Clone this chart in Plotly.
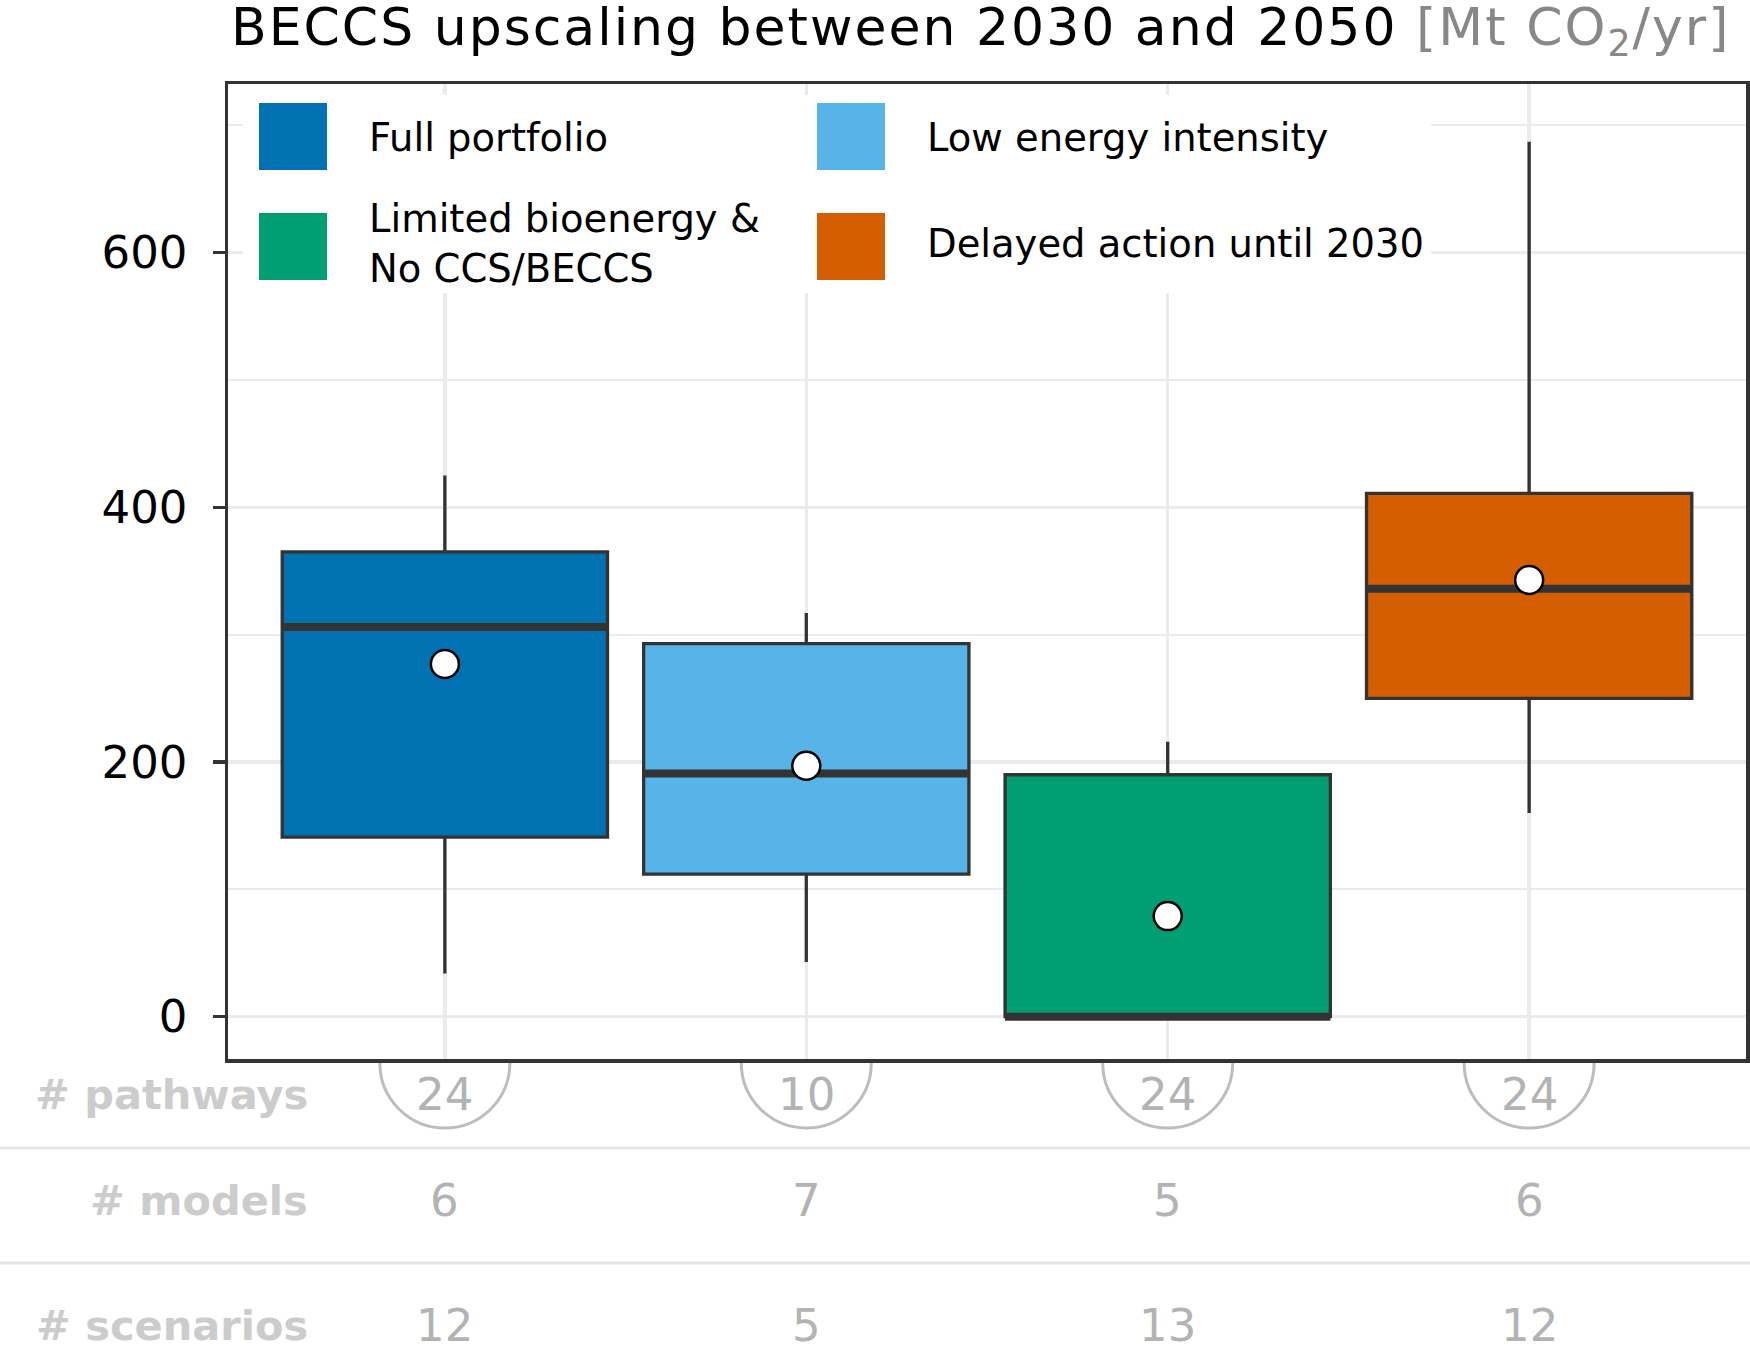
import plotly.graph_objects as go

# ---------------- data ----------------
categories = ["Full portfolio", "Low energy intensity",
              "Limited bioenergy &<br>No CCS/BECCS", "Delayed action until 2030"]
colors = ["#0072B2", "#56B4E9", "#009E73", "#D55E00"]
lower_whisker = [34, 43, 0, 160]
q1 = [141, 112, 0, 250]
median = [306, 191, 0, 336]
q3 = [365, 293, 190, 411]
upper_whisker = [425, 317, 216, 687]
mean = [277, 197, 79, 343]
n_pathways = [24, 10, 24, 24]
n_models = [6, 7, 5, 6]
n_scenarios = [12, 5, 13, 12]
row_labels = ["# pathways", "# models", "# scenarios"]
y_tick0 = 0
y_major_step = 200
y_minor_step = 100

# ---------------- layout geometry (pixels) ----------------
W, H = 1750, 1355
L, R, T, B = 228, 4, 84, 296
PW, PH = W - L - R, H - T - B
FONT = "DejaVu Sans"
BOX_W = 0.9


def px_x(p):
    return (p - L) / PW


def px_y(p):
    return (H - B - p) / PH


positions = list(range(len(categories)))

fig = go.Figure()

for i, cat in enumerate(categories):
    fig.add_trace(go.Box(
        x=[positions[i]], q1=[q1[i]], median=[median[i]], q3=[q3[i]],
        lowerfence=[lower_whisker[i]], upperfence=[upper_whisker[i]],
        fillcolor=colors[i], line=dict(color="#333333", width=3.3),
        whiskerwidth=0, width=BOX_W, boxpoints=False, showlegend=False,
        name=cat.replace("<br>", " "), hoverinfo="skip"))
    # thick median bar
    fig.add_trace(go.Scatter(
        x=[positions[i] - BOX_W / 2, positions[i] + BOX_W / 2],
        y=[median[i], median[i]], mode="lines",
        line=dict(color="#333333", width=8), showlegend=False,
        hoverinfo="skip"))

fig.add_trace(go.Scatter(
    x=positions, y=mean, mode="markers",
    marker=dict(size=28, color="white", line=dict(color="black", width=2.5)),
    showlegend=False, hoverinfo="skip"))

shapes = []
annotations = []

# ---- custom legend ----
shapes.append(dict(type="rect", xref="paper", yref="paper",
                   x0=px_x(243), x1=px_x(1431), y0=px_y(293), y1=px_y(95),
                   fillcolor="white", line=dict(width=0), layer="above"))
leg_col = [0, 1, 0, 1]
leg_row = [0, 0, 1, 1]
sw_x = [259, 817]
txt_x = [367, 925]
sw_y = [103, 213]
txt_dy = [0, -3]
SW = 68
for i, cat in enumerate(categories):
    c, r = leg_col[i], leg_row[i]
    shapes.append(dict(type="rect", xref="paper", yref="paper",
                       x0=px_x(sw_x[c]), x1=px_x(sw_x[c] + SW),
                       y0=px_y(sw_y[r] + SW - 1), y1=px_y(sw_y[r]),
                       fillcolor=colors[i], line=dict(width=0), layer="above"))
    annotations.append(dict(xref="paper", yref="paper", x=px_x(txt_x[c]),
                            y=px_y(sw_y[r] + SW / 2 + txt_dy[r]),
                            xanchor="left",
                            yanchor="middle", text=cat, showarrow=False,
                            align="left",
                            font=dict(family=FONT, size=38.5, color="black")))

# ---- title ----
annotations.append(dict(
    xref="paper", yref="paper", x=px_x(229), y=px_y(31.5),
    xanchor="left", yanchor="middle", showarrow=False,
    text="<span style='letter-spacing:2px'>BECCS upscaling between 2030 and 2050 "
         "<span style='color:#888888'>[Mt CO<sub>2</sub>/yr]</span></span>",
    font=dict(family=FONT, size=52, color="black")))

# ---- table below the plot ----
r_c = 65
k = 0.5523 * r_c
half_circle = (f"M {-r_c},0 C {-r_c},{-k} {-k},{-r_c} 0,{-r_c} "
               f"C {k},{-r_c} {r_c},{-k} {r_c},0")
for i in positions:
    shapes.append(dict(type="path", xref="x", yref="paper",
                       xsizemode="pixel", ysizemode="pixel",
                       xanchor=i, yanchor=px_y(1063), path=half_circle,
                       line=dict(color="#bdbdbd", width=3), layer="above"))

row_y = [1094, 1200, 1325]
row_values = [n_pathways, n_models, n_scenarios]
for rlab, ry, vals in zip(row_labels, row_y, row_values):
    annotations.append(dict(xref="paper", yref="paper", x=px_x(310),
                            y=px_y(ry), xanchor="right", yanchor="middle",
                            text=f"<b>{rlab}</b>", showarrow=False,
                            font=dict(family=FONT, size=41.5, color="#cccccc")))
    for i, v in zip(positions, vals):
        annotations.append(dict(xref="x", yref="paper", x=i, y=px_y(ry),
                                xanchor="center", yanchor="middle",
                                text=str(v), showarrow=False,
                                font=dict(family=FONT, size=45,
                                          color="#b3b3b3")))

for sy in [1148, 1263]:
    shapes.append(dict(type="line", xref="paper", yref="paper",
                       x0=px_x(0), x1=px_x(W), y0=px_y(sy), y1=px_y(sy),
                       line=dict(color="#e6e6e6", width=3)))

y_lo = -33.2
y_hi = 732.4

fig.update_layout(
    width=W, height=H,
    margin=dict(l=L, r=R, t=T, b=B, autoexpand=False),
    paper_bgcolor="white", plot_bgcolor="white",
    font=dict(family=FONT, color="black"),
    shapes=shapes, annotations=annotations,
    showlegend=False,
    xaxis=dict(range=[-0.6, len(categories) - 0.4], tickvals=positions,
               showticklabels=False, ticks="", showgrid=True,
               gridcolor="#ebebeb", gridwidth=3.3, zeroline=False,
               showline=True, mirror=True, linecolor="#333333",
               linewidth=3.5, fixedrange=True),
    yaxis=dict(range=[y_lo, y_hi], tick0=y_tick0, dtick=y_major_step,
               ticks="outside", ticklen=12, tickwidth=3.5,
               tickcolor="#333333", tickfont=dict(size=45, color="black"),
               ticklabelstandoff=16,
               showgrid=True, gridcolor="#ebebeb", gridwidth=3.3,
               minor=dict(dtick=y_minor_step, showgrid=True,
                          gridcolor="#ebebeb", gridwidth=2.2, ticks=""),
               zeroline=False, showline=True, mirror=True,
               linecolor="#333333", linewidth=3.5, fixedrange=True),
)

fig.write_html("out.html",
               config={"displayModeBar": False, "staticPlot": True},
               post_script="document.body.style.margin='0';"
                           "document.body.style.overflow='hidden';")
